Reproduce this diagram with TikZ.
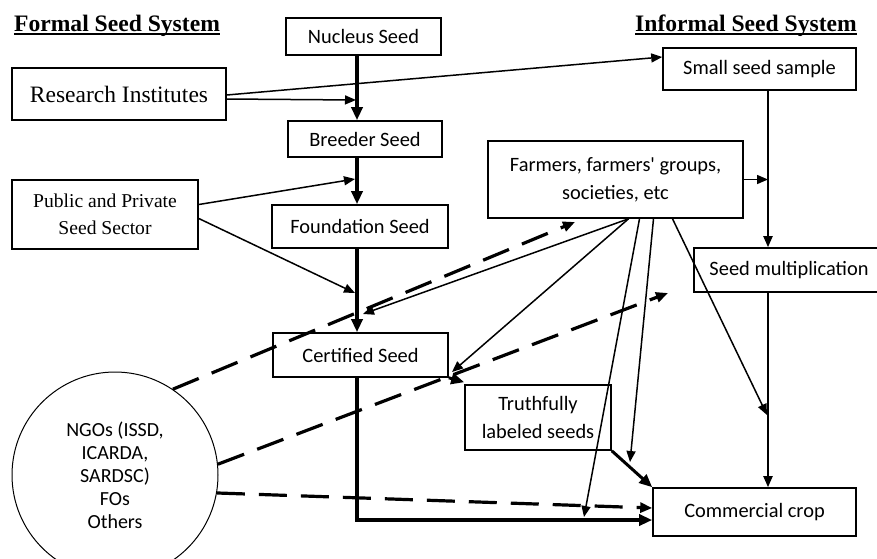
\documentclass[tikz,border=0pt]{standalone}
\usepackage{fontspec}
\setmainfont{Carlito}
\newfontfamily\tnr{Liberation Serif}
\usetikzlibrary{arrows.meta,calc}
\begin{document}
\begin{tikzpicture}[x=1pt,y=-1pt,
  box/.style={draw,line width=1.6pt,inner sep=0pt,align=center,font=\fontsize{20.4}{28}\selectfont},
  title/.style={anchor=base,inner sep=0pt,font=\tnr\bfseries\fontsize{23.6}{28}\selectfont},
  thinar/.style={line width=1.5pt,-{Triangle[length=11pt,width=9pt]}},
  thickar/.style={line width=3.5pt,-{Triangle[length=13pt,width=11pt]}},
  dasharr/.style={line width=3.2pt,dash pattern=on 28pt off 14pt,-{Triangle[length=12pt,width=10pt]}},
]
\useasboundingbox (0,0) rectangle (877,558);
\clip (0,0) rectangle (877,558);

% titles
\node[title] (ftitle) at (117,31) {Formal Seed System};
\node[title] (ititle) at (746,31) {Informal Seed System};
\draw[line width=1.5pt] ($(ftitle.base west)+(0,3)$) -- ($(ftitle.base east)+(0,3)$);
\draw[line width=1.5pt] ($(ititle.base west)+(0,3)$) -- ($(ititle.base east)+(0,3)$);

% boxes
\node[box,minimum width=155,minimum height=37] (nucleus) at (363.5,36.5) {Nucleus Seed};
\node[box,minimum width=214,minimum height=52,font=\tnr\fontsize{23.5}{28}\selectfont] (research) at (119,94) {Research Institutes};
\node[box,minimum width=154,minimum height=36] (breeder) at (365,139) {Breeder Seed};
\node[box,minimum width=186,minimum height=69,font=\tnr\fontsize{19.6}{27}\selectfont] (public) at (105,214.5) {Public and Private\\Seed Sector};
\node[box,minimum width=176,minimum height=43] (foundation) at (360,226.5) {Foundation Seed};
\node[box,minimum width=175,minimum height=44] (certified) at (360.5,355) {Certified Seed};
\node[box,minimum width=193,minimum height=42] (small) at (759.5,69) {Small seed sample};
\node[box,minimum width=255,minimum height=77] (farmers) at (615.5,179.5) {Farmers, farmers\textquotesingle{} groups,\\societies, etc};
\node[box,minimum width=190,minimum height=44] (seedmult) at (789,270) {Seed multiplication};
\node[box,minimum width=146,minimum height=65] (truthful) at (538,417.5) {Truthfully\\labeled seeds};
\node[box,minimum width=203,minimum height=48] (commercial) at (754.5,512) {Commercial crop};
\node[draw,circle,line width=1pt,minimum size=206,inner sep=0pt,align=center,font=\fontsize{20}{23}\selectfont] (ngo) at (115,475) {NGOs (ISSD,\\ICARDA,\\SARDSC)\\FOs\\Others};

% helper coordinates
\coordinate (sp) at (357,0);
\coordinate (sm) at (768,0);
\coordinate (r1) at (356,100);
\coordinate (p1) at (355,179);
\coordinate (p2) at (355,293);
\coordinate (f1) at (363,314);
\coordinate (f2) at (452,372);
\coordinate (f3) at (584,517);
\coordinate (f4) at (630,462);
\coordinate (f5) at (767,415);
\coordinate (d1) at (575,222);
\coordinate (d2) at (668,293);
\coordinate (cc) at ($(commercial.west)+(0,8)$);

% formal spine
\draw[thickar] (nucleus.south -| sp) -- (breeder.north -| sp);
\draw[thickar] (breeder.south -| sp) -- (foundation.north -| sp);
\draw[thickar] (foundation.south -| sp) -- (certified.north -| sp);
\draw[thickar,line width=3.2pt] (certified.south -| sp) |- (cc);

% research / public
\draw[thinar] ($(research.east)+(0,5)$) -- (r1);
\draw[thinar] ($(research.east)+(0,1)$) -- ($(small.west)+(0,-12)$);
\draw[thinar] ($(public.east)+(0,-10)$) -- (p1);
\draw[thinar] ($(public.east)+(0,4)$) -- (p2);

% farmers
\draw[thinar] ($(farmers.south)+(13,0)$) -- (f1);
\draw[thinar] ($(farmers.south)+(13,0)$) -- (f2);
\draw[thinar] ($(farmers.south)+(24,0)$) -- (f3);
\draw[thinar] ($(farmers.south)+(38,0)$) -- (f4);
\draw[thinar] ($(farmers.south)+(57,0)$) -- (f5);
\draw[thinar] (farmers.east) -- (farmers.east -| sm);

% informal spine
\draw[thinar,line width=2pt] (small.south -| sm) -- (seedmult.north -| sm);
\draw[thinar,line width=2pt] (seedmult.south -| sm) -- (commercial.north -| sm);

% truthfully labeled
\draw[thickar,line width=3pt] (certified.south east) -- ($(truthful.north west)+(0,-2)$);
\draw[thickar,line width=3pt] (truthful.south east) -- (commercial.north west);

% NGO dashed
\draw[dasharr] (ngo.56) -- (d1);
\draw[dasharr] (ngo.6) -- (d2);
\draw[dasharr] (ngo.-10) -- ($(commercial.west)+(0,-4)$);
\end{tikzpicture}
\end{document}
